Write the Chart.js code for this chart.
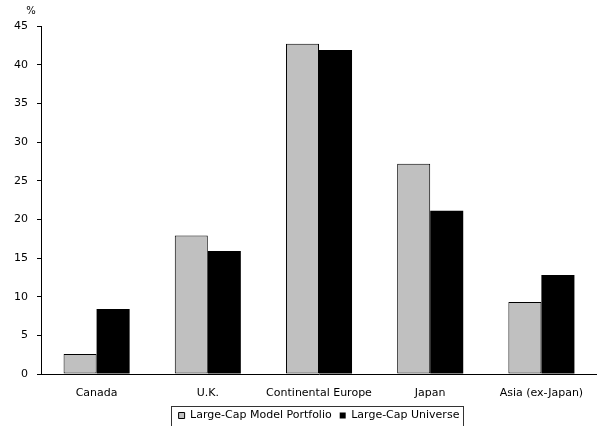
<!DOCTYPE html>
<html>
<head>
<meta charset="utf-8">
<script src="https://cdn.jsdelivr.net/npm/chart.js@4.4.1/dist/chart.umd.min.js"></script>
<style>
  html, body { margin: 0; padding: 0; background: #fff; }
  canvas { display: block; }
</style>
</head>
<body>
<canvas id="regionChart" width="597" height="426"></canvas>
<script>
// ==============================
// Data
// ==============================
const regions = ["Canada", "U.K.", "Continental Europe", "Japan", "Asia (ex-Japan)"];
const modelPortfolio = [2.6, 17.9, 42.7, 27.2, 9.3];
const largeCapUniverse = [8.4, 15.9, 41.9, 21.1, 12.8];
const yTicks = [0, 5, 10, 15, 20, 25, 30, 35, 40, 45];

const FONT = "'DejaVu Sans', Verdana, sans-serif";

// ==============================
// Small plugins: unit label, legend placement and frame
// ==============================
const unitLabel = {
  id: "unitLabel",
  afterDraw(chart) {
    const y = chart.scales.y;
    const ctx = chart.ctx;
    ctx.save();
    ctx.font = "10px " + FONT;
    ctx.fillStyle = "#000";
    ctx.textAlign = "center";
    ctx.textBaseline = "middle";
    ctx.fillText("%", y.right - 10, y.top - 15);
    ctx.restore();
  }
};

const legendPlacement = {
  id: "legendPlacement",
  afterLayout(chart) {
    const lg = chart.legend;
    const area = chart.chartArea;
    const shiftX = (area.left + area.right) / 2 - (lg.left + lg.right) / 2;
    lg.left += shiftX;
    lg.right += shiftX;
    const h = lg.bottom - lg.top;
    lg.top = 402;
    lg.bottom = lg.top + h;
  },
  afterDraw(chart) {
    const boxes = chart.legend.legendHitBoxes;
    if (!boxes || !boxes.length) return;
    const left = Math.min(...boxes.map(b => b.left)) - 8;
    const right = Math.max(...boxes.map(b => b.left + b.width)) + 3;
    const mid = boxes[0].top + boxes[0].height / 2;
    const ctx = chart.ctx;
    ctx.save();
    ctx.strokeStyle = "#333";
    ctx.lineWidth = 1;
    ctx.strokeRect(Math.round(left) + 0.5, Math.round(mid - 10) + 0.5, Math.round(right - left), 40);
    ctx.restore();
  }
};

// ==============================
// Chart
// ==============================
new Chart(document.getElementById("regionChart"), {
  type: "bar",
  data: {
    labels: regions,
    datasets: [
      {
        label: "Large-Cap Model Portfolio",
        data: modelPortfolio,
        backgroundColor: "#c0c0c0",
        borderColor: "#000",
        borderWidth: 1,
        borderSkipped: false
      },
      {
        label: "Large-Cap Universe",
        data: largeCapUniverse,
        backgroundColor: "#000",
        borderColor: "#000",
        borderWidth: 0
      }
    ]
  },
  options: {
    responsive: false,
    animation: false,
    devicePixelRatio: 1,
    layout: { padding: { top: 26, left: 0, right: 0, bottom: 0 } },
    datasets: { bar: { categoryPercentage: 0.594, barPercentage: 1 } },
    plugins: {
      title: { display: false },
      tooltip: { enabled: false },
      legend: {
        position: "bottom",
        maxHeight: 22,
        labels: {
          font: { family: FONT, size: 11 },
          color: "#000",
          boxWidth: 6,
          boxHeight: 6,
          padding: 8
        }
      }
    },
    scales: {
      x: {
        grid: { display: false, drawTicks: false },
        border: { display: true, color: "#000", width: 1 },
        ticks: { font: { family: FONT, size: 11 }, color: "#000", padding: 13, maxRotation: 0 },
        afterFit(scale) { scale.height = 30; }
      },
      y: {
        min: 0,
        max: 45,
        afterBuildTicks(scale) { scale.ticks = yTicks.map(v => ({ value: v })); },
        grid: { display: true, drawOnChartArea: false, drawTicks: true, tickLength: 4, color: "#000" },
        border: { display: true, color: "#000", width: 1 },
        ticks: { font: { family: FONT, size: 11 }, color: "#000", padding: 9 },
        afterFit(scale) { scale.width = 41; }
      }
    }
  },
  plugins: [unitLabel, legendPlacement]
});
</script>
</body>
</html>
